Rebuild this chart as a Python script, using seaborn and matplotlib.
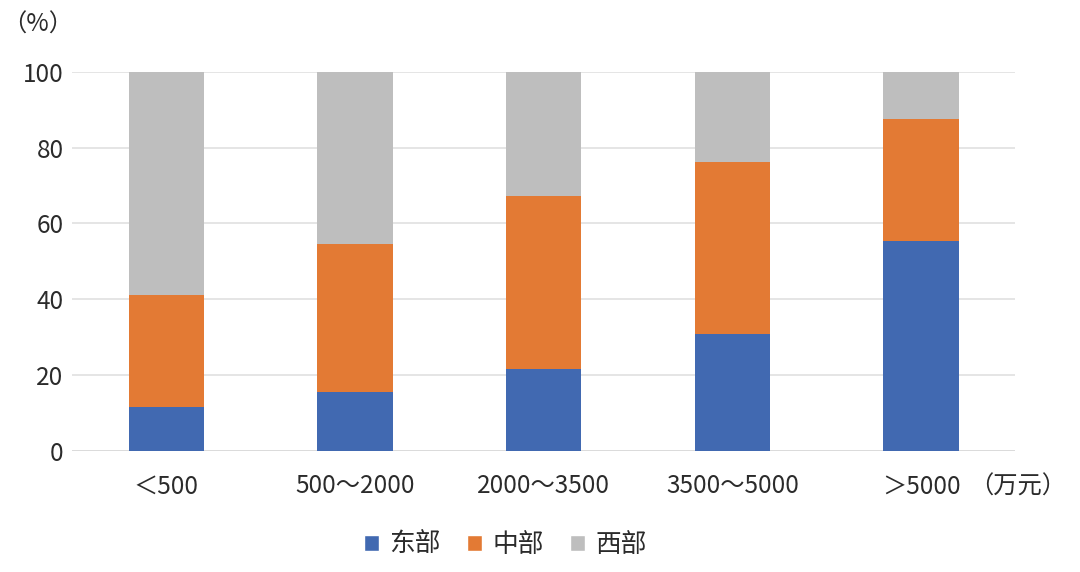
import numpy as np
import pandas as pd
import seaborn as sns
import matplotlib.pyplot as plt
from matplotlib.patches import Patch

# 数据
categories = ['＜500', '500～2000', '2000～3500', '3500～5000', '＞5000']
east = [11.5, 15.5, 21.5, 30.8, 55.4]
central = [29.7, 39.2, 45.8, 45.5, 32.2]
west = [58.8, 45.3, 32.7, 23.7, 12.4]
regions = ['东部', '中部', '西部']
colors = ['#4169B1', '#E37A34', '#BEBEBE']

sns.set_theme(style='white')
plt.rcParams['font.family'] = ['Noto Sans CJK SC', 'DejaVu Sans']

df = pd.DataFrame({'cat': categories, 'east': east, 'central': central, 'west': west})
df['c2'] = df['east'] + df['central']
df['c3'] = df['c2'] + df['west']

fig = plt.figure(figsize=(10.8, 5.72), dpi=100)
ax = fig.add_axes([0.0667, 0.2115, 0.8735, 0.663])

# 堆叠：先画总高，再画中间和底层
for col, c in zip(['c3', 'c2', 'east'], colors[::-1]):
    sns.barplot(data=df, x='cat', y=col, color=c, width=0.4, saturation=1,
                linewidth=0, ax=ax, zorder=2)

ax.set_ylim(0, 100)
ax.set_xlim(-0.5, 4.5)
ax.set_yticks([0, 20, 40, 60, 80, 100])
ax.yaxis.grid(True, color='#E3E3E3', linewidth=1.3, zorder=0)
ax.set_axisbelow(True)
for s in ax.spines.values():
    s.set_visible(False)
ax.axhline(0, color='#DADADA', linewidth=1.3, zorder=1)
ax.set_xlabel('')
ax.set_ylabel('')
ax.tick_params(axis='both', length=0, labelsize=17.5, colors='#2b2b2b')
ax.tick_params(axis='y', pad=6)
ax.tick_params(axis='x', pad=16)

fig.text(0.002, 0.957, '（%）', fontsize=17.5, color='#2b2b2b', ha='left', va='center')
fig.text(0.897, 0.15, '（万元）', fontsize=17.5, color='#2b2b2b', ha='left', va='center')

handles = [Patch(facecolor=c, label=r) for c, r in zip(colors, regions)]
fig.legend(handles=handles, loc='center', bbox_to_anchor=(0.468, 0.047), ncol=3,
           frameon=False, fontsize=18.5, handlelength=0.6, handleheight=0.6,
           handletextpad=0.4, columnspacing=1.0, labelcolor='#2b2b2b')

fig.savefig('out.png', dpi=100)
